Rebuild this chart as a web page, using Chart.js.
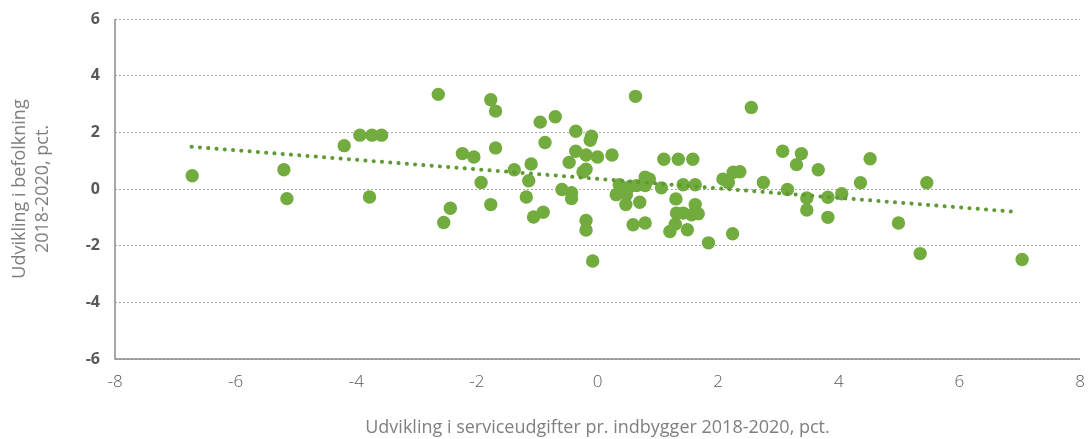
<!DOCTYPE html>
<html>
<head>
<meta charset="utf-8">
<script src="https://cdn.jsdelivr.net/npm/chart.js@4/dist/chart.umd.min.js"></script>
<style>
  html, body { margin: 0; padding: 0; background: #ffffff; }
  #c { display: block; }
</style>
</head>
<body>
<canvas id="c" width="1088" height="439"></canvas>
<script>
// Serviceudgifter (x) vs befolkning (y), pct. 2018-2020
const xValues = [
  -6.72, -5.20, -5.15, -4.20, -3.94, -3.74, -3.58, -3.78, -2.64, -2.55,
  -2.44, -2.24, -2.05, -1.93, -1.77, -1.69, -1.69, -1.77, -1.38, -1.10,
  -1.14, -1.18, -1.06, -0.90, -0.95, -0.87, -0.70, -0.36, -0.10, -0.12,
  -0.36, -0.19, 0.00, 0.24, -0.47, -0.19, -0.24, -0.59, -0.43, -0.43,
  -0.19, -0.19, -0.08, 0.63, 2.55, 0.36, 0.31, 0.54, 0.65, 0.79,
  0.79, 0.86, 0.48, 0.47, 0.70, 0.59, 0.79, 1.06, 1.10, 1.34,
  1.58, 1.42, 1.62, 1.30, 1.62, 1.31, 1.42, 1.56, 1.67, 1.29,
  1.20, 1.49, 1.84, 2.08, 2.17, 2.25, 2.36, 2.24, 2.75, 3.07,
  3.38, 3.30, 3.66, 3.15, 3.47, 3.47, 3.82, 3.82, 4.05, 4.36,
  4.52, 4.99, 5.46, 5.35, 7.04
];
const yValues = [
  0.47, 0.68, -0.34, 1.53, 1.90, 1.90, 1.90, -0.28, 3.34, -1.18,
  -0.68, 1.25, 1.13, 0.23, 3.15, 2.75, 1.45, -0.55, 0.68, 0.88,
  0.29, -0.28, -0.99, -0.82, 2.36, 1.64, 2.55, 2.04, 1.86, 1.72,
  1.33, 1.20, 1.13, 1.20, 0.94, 0.70, 0.60, -0.02, -0.13, -0.34,
  -1.11, -1.45, -2.54, 3.27, 2.88, 0.15, -0.20, 0.09, 0.12, 0.12,
  0.42, 0.35, -0.20, -0.55, -0.47, -1.26, -1.20, 0.04, 1.05, 1.05,
  1.05, 0.15, 0.15, -0.35, -0.55, -0.85, -0.85, -0.91, -0.87, -1.24,
  -1.50, -1.44, -1.90, 0.35, 0.23, 0.59, 0.61, -1.58, 0.23, 1.33,
  1.25, 0.86, 0.68, -0.02, -0.32, -0.74, -0.29, -1.00, -0.17, 0.22,
  1.07, -1.20, 0.22, -2.28, -2.49
];
// Linear trendline endpoints
const trendX = [-6.73, 6.90];
const trendY = [1.49, -0.80];

const xTicks = [-8, -6, -4, -2, 0, 2, 4, 6, 8];
const yTicks = [-6, -4, -2, 0, 2, 4, 6];
const xTitle = 'Udvikling i serviceudgifter pr. indbygger 2018-2020, pct.';
const yTitle = ['Udvikling i befolkning', '2018-2020, pct.'];

const points = xValues.map((x, i) => ({ x: x, y: yValues[i] }));
const trend = trendX.map((x, i) => ({ x: x, y: trendY[i] }));

const axisLines = {
  id: 'axisLines',
  beforeDatasetsDraw(chart) {
    const a = chart.chartArea, ctx = chart.ctx;
    ctx.save();
    ctx.strokeStyle = '#8c8c8c';
    ctx.lineWidth = 1.5;
    ctx.setLineDash([]);
    ctx.beginPath();
    ctx.moveTo(a.left, a.top);
    ctx.lineTo(a.left, a.bottom);
    ctx.lineTo(a.right, a.bottom);
    ctx.stroke();
    ctx.restore();
  }
};

new Chart(document.getElementById('c'), {
  type: 'scatter',
  data: {
    datasets: [
      {
        type: 'line',
        label: 'Trend',
        data: trend,
        showLine: true,
        borderColor: '#5f9a35',
        borderWidth: 4,
        borderDash: [0.1, 8.2],
        borderCapStyle: 'round',
        pointRadius: 0,
        fill: false,
        order: 0
      },
      {
        label: 'Kommuner',
        data: points,
        backgroundColor: '#72ab3e',
        borderColor: '#72ab3e',
        borderWidth: 0,
        pointRadius: 6.7,
        order: 1
      }
    ]
  },
  options: {
    responsive: false,
    animation: false,
    devicePixelRatio: 1,
    layout: { padding: { left: 0, right: 8, top: 19, bottom: 0 } },
    plugins: {
      legend: { display: false },
      tooltip: { enabled: false }
    },
    scales: {
      x: {
        type: 'linear',
        min: -8, max: 8,
        afterBuildTicks: (s) => { s.ticks = xTicks.map(v => ({ value: v })); },
        afterFit: (s) => { s.height = 80; s.paddingLeft = 0; s.paddingRight = 0; },
        grid: { display: false, drawTicks: false },
        border: { display: false },
        ticks: {
          padding: 13,
          color: '#595959',
          font: { family: "'Open Sans', sans-serif", size: 17, weight: '300' },
          maxRotation: 0
        },
        title: {
          display: true,
          text: xTitle,
          color: '#7f7f7f',
          font: { family: "'Open Sans', sans-serif", size: 18, lineHeight: 1.2 },
          padding: { top: 0, bottom: 0 }
        }
      },
      y: {
        type: 'linear',
        min: -6, max: 6,
        afterBuildTicks: (s) => { s.ticks = yTicks.map(v => ({ value: v })); },
        afterFit: (s) => { s.width = 115; s.paddingTop = 0; s.paddingBottom = 0; },
        grid: { color: '#a6a6a6', lineWidth: 1, drawTicks: false },
        border: { display: false, dash: [2, 2] },
        ticks: {
          padding: 15,
          color: '#595959',
          font: { family: "'Open Sans', sans-serif", size: 16, weight: 'bold' }
        },
        title: {
          display: true,
          text: yTitle,
          color: '#7f7f7f',
          font: { family: "'Open Sans', sans-serif", size: 18, lineHeight: 1.28 },
          padding: { top: 8, bottom: 0 }
        }
      }
    }
  },
  plugins: [axisLines]
});
</script>
</body>
</html>
